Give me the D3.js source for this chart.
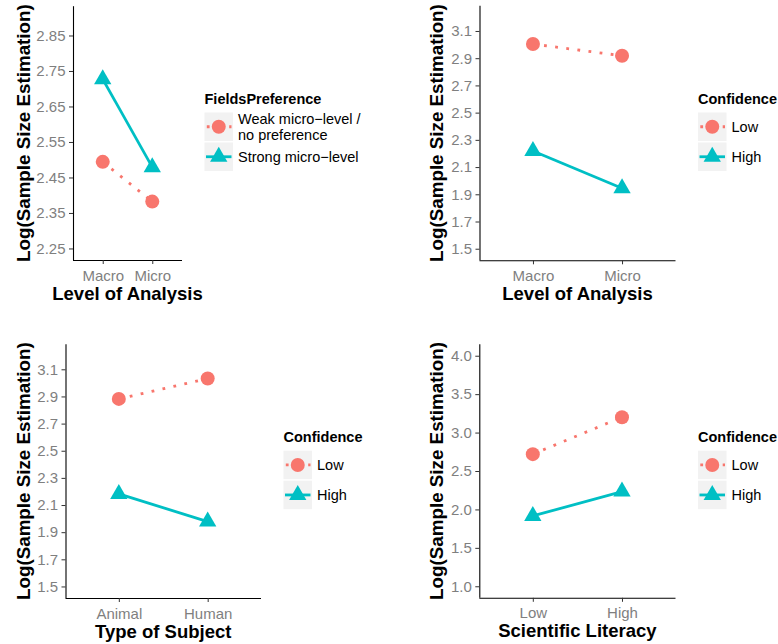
<!DOCTYPE html>
<html>
<head>
<meta charset="utf-8">
<script src="https://cdn.jsdelivr.net/npm/d3@7/dist/d3.min.js"></script>
<style>
  html, body { margin: 0; padding: 0; background: #fff; }
  svg { display: block; }
  text { font-family: "Liberation Sans", Arial, Helvetica, sans-serif; }
</style>
</head>
<body>
<svg id="chart" width="778" height="644"></svg>
<script>
// ---- data ----
const levelCategories = ["Macro", "Micro"];
const fieldGroups = ["Weak micro\u2212level /\nno preference", "Strong micro\u2212level"];
const fieldWeakValues = [2.494, 2.382];
const fieldStrongValues = [2.727, 2.479];
const fieldTicks = [2.25, 2.35, 2.45, 2.55, 2.65, 2.75, 2.85];
const fieldLimits = [2.25, 2.9];

const confidenceGroups = ["Low", "High"];

const levelLowValues = [3.004, 2.918];
const levelHighValues = [2.218, 1.944];
const levelTicks = [1.5, 1.7, 1.9, 2.1, 2.3, 2.5, 2.7, 2.9, 3.1];
const levelLimits = [1.5, 3.2];

const subjectCategories = ["Animal", "Human"];
const subjectLowValues = [2.882, 3.032];
const subjectHighValues = [2.182, 1.978];
const subjectTicks = [1.5, 1.7, 1.9, 2.1, 2.3, 2.5, 2.7, 2.9, 3.1];
const subjectLimits = [1.5, 3.2];

const literacyCategories = ["Low", "High"];
const literacyLowValues = [2.719, 3.2];
const literacyHighValues = [1.915, 2.232];
const literacyTicks = [1.0, 1.5, 2.0, 2.5, 3.0, 3.5, 4.0];
const literacyLimits = [1, 4];

const yTitle = "Log(Sample Size Estimation)";

// ---- styling ----
const COL_LOW = "#F8766D";
const COL_HIGH = "#00BFC4";
const LWD = 2.8;
const DOTS = `${LWD} ${LWD * 3}`;
const circleSym = d3.symbol().type(d3.symbolCircle).size(Math.PI * 7 * 7);
const triSym = d3.symbol().type(d3.symbolTriangle).size(25 * 3 * Math.sqrt(3));

const svg = d3.select("#chart");

function drawPanel(cfg) {
  const g = svg.append("g");
  const pad = (cfg.limits[1] - cfg.limits[0]) * 0.05;
  const y = d3.scaleLinear()
    .domain([cfg.limits[0] - pad, cfg.limits[1] + pad])
    .range([cfg.y1, cfg.y0]);
  const x = d3.scalePoint()
    .domain(cfg.categories)
    .range([cfg.x0, cfg.x1])
    .padding(0.6);

  // y axis
  const yAxis = d3.axisLeft(y).tickValues(cfg.ticks).tickFormat(d3.format(cfg.fmt))
    .tickSize(4).tickPadding(3.5);
  const ya = g.append("g").attr("transform", `translate(${cfg.x0},0)`).call(yAxis);
  ya.select(".domain").attr("d", `M0.5,${cfg.y0}V${cfg.y1}`).attr("stroke", "#000").attr("stroke-width", 1.1);
  ya.selectAll(".tick line").attr("stroke", "#333");
  ya.selectAll(".tick text").attr("fill", "#7f7f7f").style("font-size", "15px");

  // x axis
  const xAxis = d3.axisBottom(x).tickSize(4).tickPadding(5);
  const xa = g.append("g").attr("transform", `translate(0,${cfg.y1})`).call(xAxis);
  xa.select(".domain").attr("d", `M${cfg.x0},0.5H${cfg.x1}`).attr("stroke", "#000").attr("stroke-width", 1.1);
  xa.selectAll(".tick line").attr("stroke", "#333");
  xa.selectAll(".tick text").attr("fill", "#7f7f7f").style("font-size", "15px")
    .attr("dy", null).attr("y", 20.5);

  // axis titles
  g.append("text")
    .attr("x", (cfg.x0 + cfg.x1) / 2).attr("y", cfg.y1 + 39.5)
    .attr("text-anchor", "middle").style("font-size", "18.5px").style("font-weight", "bold")
    .attr("fill", "#000").text(cfg.xTitle);
  g.append("text")
    .attr("transform", `translate(${cfg.yTitleX},${(cfg.y0 + cfg.y1) / 2}) rotate(-90)`)
    .attr("text-anchor", "middle").style("font-size", "18.8px").style("font-weight", "bold")
    .attr("fill", "#000").text(yTitle);

  // series
  const series = [
    { values: cfg.lowValues, color: COL_LOW, dash: DOTS, sym: circleSym },
    { values: cfg.highValues, color: COL_HIGH, dash: null, sym: triSym }
  ];
  const line = d3.line().x((d, i) => x(cfg.categories[i])).y(d => y(d));
  series.forEach(s => {
    g.append("path").datum(s.values)
      .attr("d", line).attr("fill", "none")
      .attr("stroke", s.color).attr("stroke-width", LWD)
      .attr("stroke-dasharray", s.dash);
  });
  series.forEach(s => {
    g.selectAll(null).data(s.values).enter().append("path")
      .attr("d", s.sym)
      .attr("transform", (d, i) => `translate(${x(cfg.categories[i])},${y(d)})`)
      .attr("fill", s.color);
  });

  // legend
  const lg = g.append("g");
  const kw = 28.5, kh = 28.5, gap = 1.5;
  lg.append("text")
    .attr("x", cfg.legX).attr("y", cfg.legY - 9)
    .style("font-size", "14.5px").style("font-weight", "bold").attr("fill", "#000")
    .text(cfg.legTitle);
  cfg.groups.forEach((name, i) => {
    const s = series[i];
    const ky = cfg.legY + i * (kh + gap);
    const cx = cfg.legX + kw / 2, cy = ky + kh / 2;
    lg.append("rect").attr("x", cfg.legX).attr("y", ky).attr("width", kw).attr("height", kh)
      .attr("fill", "#F2F2F2");
    lg.append("line")
      .attr("x1", cfg.legX + (s.dash ? 2.3 : 1.5)).attr("x2", cfg.legX + kw - 1.5)
      .attr("y1", cy).attr("y2", cy)
      .attr("stroke", s.color).attr("stroke-width", LWD).attr("stroke-dasharray", s.dash);
    lg.append("path").attr("d", s.sym).attr("transform", `translate(${cx},${cy})`).attr("fill", s.color);
    const lines = name.split("\n");
    const lh = 16.7;
    const t = lg.append("text")
      .attr("x", cfg.legX + kw + 5).attr("y", cy - (lines.length - 1) * lh / 2)
      .style("font-size", "14.5px").attr("fill", "#000");
    lines.forEach((ln, j) => {
      t.append("tspan").attr("x", cfg.legX + kw + 5).attr("dy", j === 0 ? "0.36em" : lh).text(ln);
    });
  });
}

drawPanel({
  x0: 73, x1: 182, y0: 6.2, y1: 260,
  categories: levelCategories, lowValues: fieldWeakValues, highValues: fieldStrongValues,
  ticks: fieldTicks, limits: fieldLimits, fmt: ".2f",
  xTitle: "Level of Analysis", yTitleX: 30,
  legTitle: "FieldsPreference", groups: fieldGroups, legX: 204.5, legY: 112.5
});
drawPanel({
  x0: 479.5, x1: 675.5, y0: 5.8, y1: 260.3,
  categories: levelCategories, lowValues: levelLowValues, highValues: levelHighValues,
  ticks: levelTicks, limits: levelLimits, fmt: ".1f",
  xTitle: "Level of Analysis", yTitleX: 443,
  legTitle: "Confidence", groups: confidenceGroups, legX: 698, legY: 112.5
});
drawPanel({
  x0: 65.5, x1: 261, y0: 344.2, y1: 598,
  categories: subjectCategories, lowValues: subjectLowValues, highValues: subjectHighValues,
  ticks: subjectTicks, limits: subjectLimits, fmt: ".1f",
  xTitle: "Type of Subject", yTitleX: 30,
  legTitle: "Confidence", groups: confidenceGroups, legX: 283.5, legY: 450.7
});
drawPanel({
  x0: 479.3, x1: 675.5, y0: 344.2, y1: 597.8,
  categories: literacyCategories, lowValues: literacyLowValues, highValues: literacyHighValues,
  ticks: literacyTicks, limits: literacyLimits, fmt: ".1f",
  xTitle: "Scientific Literacy", yTitleX: 443,
  legTitle: "Confidence", groups: confidenceGroups, legX: 698, legY: 450.7
});
</script>
</body>
</html>
